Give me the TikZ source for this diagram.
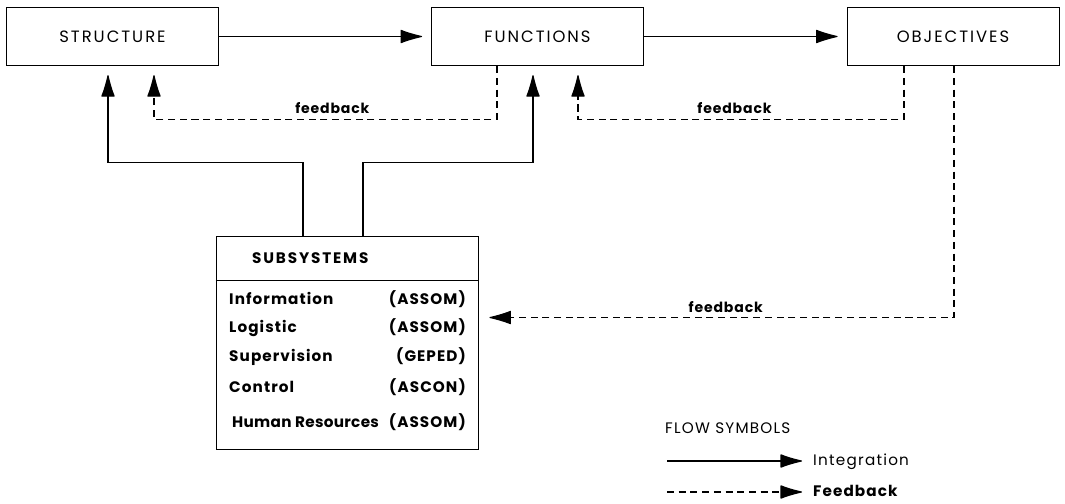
\documentclass[tikz,border=0pt]{standalone}
\usepackage{fontspec}
\setmainfont{Poppins}
\usetikzlibrary{arrows.meta,calc}

\begin{document}
\begin{tikzpicture}[
        x=0.03cm, y=-0.03cm,
        every node/.style={font=\fontsize{12}{14}\selectfont},
        block/.style={
            draw,
            line width=0.8pt,
            minimum width=6.36cm,
            minimum height=1.75cm,
            font=\fontsize{14}{17}\selectfont\addfontfeature{LetterSpace=12}
        },
        integ/.style={-{Latex[round,length=0.72cm,width=0.42cm]}, line width=1pt, shorten >=0.27cm},
        fback/.style={integ, dash pattern=on 6pt off 4pt},
        msg/.style={above, inner sep=4pt, font=\fontsize{12}{14}\selectfont\bfseries\addfontfeature{LetterSpace=6}},
        row/.style={inner sep=0pt, text height=10pt, text depth=3pt,
            font=\fontsize{13}{15}\selectfont\bfseries\addfontfeature{LetterSpace=7}}
    ]

        \useasboundingbox (0,0) rectangle (1065,503);

        \node[block] (struct) at (112.5,36.5) {STRUCTURE};
        \node[block] (func)   at (537.5,36.5) {FUNCTIONS};
        \node[block] (obj)    at (953,36.5)   {OBJECTIVES};

        \node[draw, line width=0.8pt, minimum width=7.86cm, minimum height=6.39cm] (subsys) at (347,342.5) {};
        \draw[line width=0.8pt] ($(subsys.north west)+(0,45)$) -- ($(subsys.north east)+(0,45)$);
        \node[row, anchor=west, font=\fontsize{13}{15}\selectfont\bfseries\addfontfeature{LetterSpace=12}] (head) at (252,259) {SUBSYSTEMS};

        \node[row, anchor=west] (inf)  at (229,300) {Information};
        \node[row, anchor=east] (infc) at (466,300) {(ASSOM)};
        \node[row, anchor=west] (log)  at (229,328) {Logistic};
        \node[row, anchor=east] (logc) at (466,328) {(ASSOM)};
        \node[row, anchor=west] (sup)  at (229,357) {Supervision};
        \node[row, anchor=east] (supc) at (466,357) {(GEPED)};
        \node[row, anchor=west] (con)  at (229,388) {Control};
        \node[row, anchor=east] (conc) at (466,388) {(ASCON)};
        \node[row, anchor=west, font=\fontsize{13}{15}\selectfont\bfseries\addfontfeature{LetterSpace=2}] (hum) at (232,423) {Human Resources};
        \node[row, anchor=east] (humc) at (466,423) {(ASSOM)};

        % integration
        \draw[integ] (struct.east) -- (func.west);
        \draw[integ] (func.east) -- (obj.west);
        \draw[integ] ($(subsys.north)+(-44,0)$) -- ++(0,-73) -| ($(struct.south)+(-4.5,0)$);
        \draw[integ] ($(subsys.north)+(16,0)$) -- ++(0,-73) -| ($(func.south)+(-4.5,0)$);

        % feedback
        \draw[fback] ($(func.south)+(-40.5,0)$) -- ++(0,53)
            -| node[msg, pos=0.24] {feedback} ($(struct.south)+(41.5,0)$);
        \draw[fback] ($(obj.south)+(-49,0)$) -- ++(0,53)
            -| node[msg, pos=0.26] {feedback} ($(func.south)+(40.5,0)$);
        \draw[fback, shorten >=0.33cm] ($(obj.south)+(1,0)$)
            |- node[msg, pos=0.74] {feedback} ($(subsys.north east)+(0,82)$);

        % legend
        \node[row, anchor=west, font=\fontsize{13}{15}\selectfont\addfontfeature{LetterSpace=8}] (legend) at (665,429) {FLOW SYMBOLS};
        \node[row, anchor=west, font=\fontsize{13}{15}\selectfont\addfontfeature{LetterSpace=8}] (lint) at (813,461) {Integration};
        \node[row, anchor=west] (lfb)  at (813,492) {Feedback};
        \coordinate (lint0) at (667,461);
        \coordinate (lfb0)  at (667,492);
        \draw[integ, shorten >=0.33cm] (lint0) -- (lint.west);
        \draw[fback, shorten >=0.33cm] (lfb0) -- (lfb.west);

    \end{tikzpicture}
\end{document}
